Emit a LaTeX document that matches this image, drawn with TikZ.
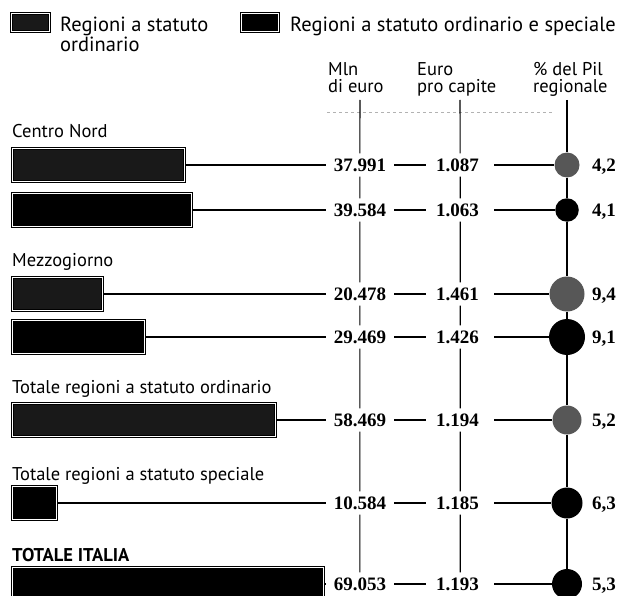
\documentclass[tikz,border=0pt]{standalone}
\usepackage{fontspec}
\setmainfont{Liberation Serif}
\newfontfamily\sansfont{PT Sans}
\usepackage{tikz}
\usetikzlibrary{arrows,shapes}
\definecolor{halftone}{gray}{0.1}
\definecolor{dotgrey}{gray}{0.34}
\tikzstyle{rso}=[draw=black,line width=0.9pt,double=white,double distance=1.4pt,fill=halftone,minimum height=32.5pt,inner sep=0pt,anchor=west]
\tikzstyle{rtot}=[rso,fill=black]
\tikzstyle{numval}=[font=\bfseries\fontsize{19}{19}\selectfont,text height=13pt,text depth=0pt,inner ysep=5pt]
\tikzstyle{mlnval}=[numval,text width=52pt,align=right,inner xsep=8pt,anchor=east]
\tikzstyle{proval}=[numval,text width=48pt,align=left,inner xsep=10pt,anchor=west]
\tikzstyle{pctval}=[numval,inner sep=0pt,anchor=west]
\tikzstyle{blob}=[circle,fill=black,inner sep=0pt]
\tikzstyle{greyblob}=[blob,fill=dotgrey]
\tikzstyle{rowlabel}=[font=\sansfont\fontsize{18.5}{17.5}\selectfont,inner sep=0pt,anchor=base west]
\tikzstyle{header}=[font=\sansfont\fontsize{18.5}{17.5}\selectfont,inner sep=0pt,align=left,anchor=north west]
\tikzstyle{legendtext}=[font=\sansfont\fontsize{20.5}{20}\selectfont,inner sep=0pt,align=left,anchor=north west]
\tikzstyle{edge} = [draw,line width=1.1pt,-]
\tikzstyle{faint} = [draw=gray!60,dashed,line width=0.5pt]

\begin{document}
\begin{tikzpicture}[x=1pt,y=-1pt]
          \useasboundingbox (0,0) rectangle (623,596);
          \node[rso,anchor=center,minimum width=37.5pt,minimum height=17.5pt] (k1) at (30.5,22.5) {};
          \node[legendtext] (l1) at (60,17) {Regioni a statuto\\ordinario};
          \node[rtot,anchor=center,minimum width=36.5pt,minimum height=17.5pt] (k2) at (260,22.5) {};
          \node[legendtext] (l2) at (290,17) {Regioni a statuto ordinario e speciale};
          \node[header] (h1) at (328,62) {Mln\\di euro};
          \node[header] (h2) at (417,62) {Euro\\pro capite};
          \node[header] (h3) at (533,62) {\% del Pil\\regionale};
          \coordinate (d1) at (327,112);
          \coordinate (d2) at (553,112);
          \coordinate (t1) at (360,100);
          \coordinate (t2) at (460,100);
          \coordinate (t3) at (567,100);
          \node[rowlabel] (g1) at (12,138) {Centro Nord};
          \node[rowlabel] (g2) at (12,266) {Mezzogiorno};
          \node[rowlabel] (g3) at (12,393) {Totale regioni a statuto ordinario};
          \node[rowlabel] (g4) at (12,480) {Totale regioni a statuto speciale};
          \node[rowlabel,font=\sansfont\bfseries\fontsize{18.5}{17.5}\selectfont] (g5) at (12,561) {TOTALE ITALIA};
          \node[rso,minimum width=172.5pt] (b1) at (11.75,165) {};
          \node[rtot,minimum width=179.5pt] (b2) at (11.75,210) {};
          \node[rso,minimum width=90.5pt] (b3) at (11.75,294) {};
          \node[rtot,minimum width=132.5pt] (b4) at (11.75,337) {};
          \node[rso,minimum width=263.5pt] (b5) at (11.75,420) {};
          \node[rtot,minimum width=44.5pt] (b6) at (11.75,503) {};
          \node[rtot,minimum width=311.5pt] (b7) at (11.75,584) {};
          \node[mlnval] (m1) at (394,165) {37.991};
          \node[mlnval] (m2) at (394,210) {39.584};
          \node[mlnval] (m3) at (394,294) {20.478};
          \node[mlnval] (m4) at (394,337) {29.469};
          \node[mlnval] (m5) at (394,420) {58.469};
          \node[mlnval] (m6) at (394,503) {10.584};
          \node[mlnval] (m7) at (394,584) {69.053};
          \node[proval] (p1) at (426,165) {1.087};
          \node[proval] (p2) at (426,210) {1.063};
          \node[proval] (p3) at (426,294) {1.461};
          \node[proval] (p4) at (426,337) {1.426};
          \node[proval] (p5) at (426,420) {1.194};
          \node[proval] (p6) at (426,503) {1.185};
          \node[proval] (p7) at (426,584) {1.193};
          \node[greyblob,minimum size=25pt] (c1) at (567,165) {};
          \node[blob,minimum size=23.5pt] (c2) at (567,210) {};
          \node[greyblob,minimum size=35pt] (c3) at (567,294) {};
          \node[blob,minimum size=36pt] (c4) at (567,337) {};
          \node[greyblob,minimum size=29pt] (c5) at (567,420) {};
          \node[blob,minimum size=31pt] (c6) at (567,503) {};
          \node[blob,minimum size=30pt] (c7) at (567,584) {};
          \node[pctval] (r1) at (592,165) {4,2};
          \node[pctval] (r2) at (592,210) {4,1};
          \node[pctval] (r3) at (592,294) {9,4};
          \node[pctval] (r4) at (592,337) {9,1};
          \node[pctval] (r5) at (592,420) {5,2};
          \node[pctval] (r6) at (592,503) {6,3};
          \node[pctval] (r7) at (592,584) {5,3};
          \draw[faint] (d1) to (d2);
          \draw[edge] (b1) to (m1);
          \draw[edge] (m1) to (p1);
          \draw[edge] (p1) to (c1);
          \draw[edge] (b2) to (m2);
          \draw[edge] (m2) to (p2);
          \draw[edge] (p2) to (c2);
          \draw[edge] (b3) to (m3);
          \draw[edge] (m3) to (p3);
          \draw[edge] (p3) to (c3);
          \draw[edge] (b4) to (m4);
          \draw[edge] (m4) to (p4);
          \draw[edge] (p4) to (c4);
          \draw[edge] (b5) to (m5);
          \draw[edge] (m5) to (p5);
          \draw[edge] (p5) to (c5);
          \draw[edge] (b6) to (m6);
          \draw[edge] (m6) to (p6);
          \draw[edge] (p6) to (c6);
          \draw[edge] (b7) to (m7);
          \draw[edge] (m7) to (p7);
          \draw[edge] (p7) to (c7);
          \draw[edge] (t1) -- (m1) -- (m2) -- (m3) -- (m4) -- (m5) -- (m6) -- (m7);
          \draw[edge] (t2) -- (p1) -- (p2) -- (p3) -- (p4) -- (p5) -- (p6) -- (p7);
          \draw[edge] (t3) -- (c1) -- (c2) -- (c3) -- (c4) -- (c5) -- (c6) -- (c7);
        \end{tikzpicture}
\end{document}
